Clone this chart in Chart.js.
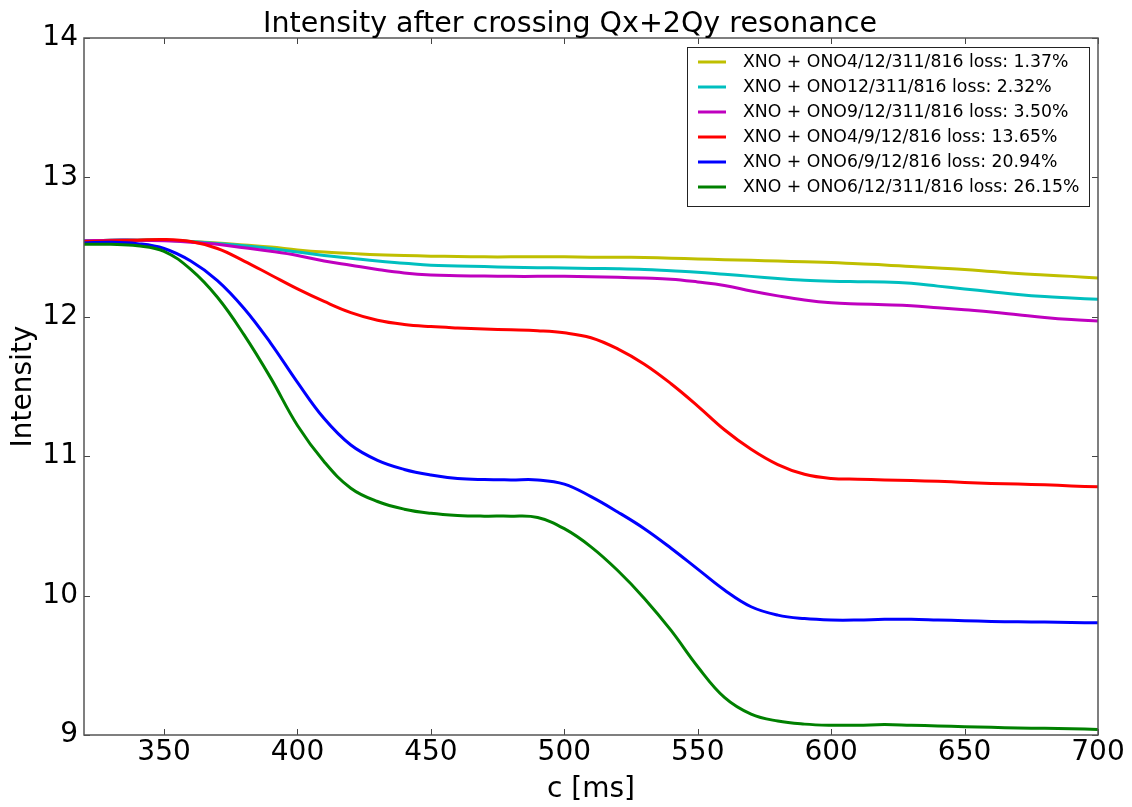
<!DOCTYPE html>
<html>
<head>
<meta charset="utf-8">
<script src="https://cdn.jsdelivr.net/npm/chart.js@4/dist/chart.umd.min.js"></script>
<style>
html,body{margin:0;padding:0;background:#fff;}
#wrap{width:1132px;height:807px;}
</style>
</head>
<body>
<div id="wrap"><canvas id="c" width="1132" height="807"></canvas></div>
<script>
const times = [320,330,340,350,360,370,380,390,400,410,420,430,440,450,460,470,480,490,500,510,520,530,540,550,560,570,580,590,600,610,620,630,640,650,660,670,680,690,700];
const yellowVals = [12.545,12.55,12.55,12.55,12.54,12.53,12.515,12.50,12.48,12.465,12.455,12.445,12.44,12.435,12.433,12.43,12.43,12.43,12.43,12.427,12.427,12.425,12.42,12.415,12.41,12.405,12.40,12.395,12.39,12.38,12.372,12.36,12.35,12.34,12.325,12.31,12.30,12.29,12.278];
const cyanVals = [12.545,12.55,12.55,12.55,12.54,12.525,12.51,12.49,12.465,12.44,12.42,12.40,12.385,12.37,12.365,12.36,12.355,12.352,12.35,12.347,12.345,12.34,12.33,12.32,12.305,12.29,12.275,12.262,12.255,12.252,12.25,12.24,12.22,12.20,12.18,12.16,12.145,12.135,12.125];
const magentaVals = [12.545,12.55,12.55,12.545,12.535,12.52,12.495,12.47,12.44,12.40,12.37,12.34,12.315,12.30,12.295,12.292,12.29,12.29,12.29,12.288,12.283,12.278,12.27,12.25,12.225,12.185,12.15,12.12,12.10,12.092,12.087,12.08,12.065,12.05,12.035,12.015,11.995,11.98,11.97];
const redVals = [12.54,12.545,12.55,12.555,12.54,12.49,12.40,12.30,12.20,12.11,12.03,11.975,11.945,11.93,11.92,11.912,11.907,11.90,11.885,11.85,11.77,11.66,11.52,11.36,11.19,11.05,10.94,10.87,10.84,10.835,10.83,10.825,10.82,10.812,10.805,10.80,10.795,10.787,10.78];
const blueVals = [12.53,12.535,12.525,12.49,12.40,12.26,12.06,11.81,11.53,11.27,11.08,10.97,10.905,10.865,10.84,10.832,10.83,10.83,10.80,10.71,10.60,10.48,10.34,10.19,10.04,9.92,9.86,9.835,9.825,9.825,9.83,9.83,9.825,9.82,9.815,9.812,9.81,9.807,9.805];
const greenVals = [12.52,12.52,12.51,12.47,12.34,12.14,11.87,11.56,11.22,10.96,10.77,10.675,10.62,10.59,10.575,10.57,10.57,10.56,10.48,10.35,10.18,9.98,9.75,9.49,9.27,9.15,9.10,9.078,9.07,9.07,9.075,9.07,9.065,9.06,9.055,9.05,9.048,9.045,9.04];

const seriesLabels = [
  "XNO + ONO4/12/311/816 loss: 1.37%",
  "XNO + ONO12/311/816 loss: 2.32%",
  "XNO + ONO9/12/311/816 loss: 3.50%",
  "XNO + ONO4/9/12/816 loss: 13.65%",
  "XNO + ONO6/9/12/816 loss: 20.94%",
  "XNO + ONO6/12/311/816 loss: 26.15%"
];
const seriesColors = ["#bfbf00","#00bfbf","#bf00bf","#ff0000","#0000ff","#008000"];
const seriesValues = [yellowVals,cyanVals,magentaVals,redVals,blueVals,greenVals];

const xTicks = [350,400,450,500,550,600,650,700];
const yTicks = [9,10,11,12,13,14];
const chartTitle = 'Intensity after crossing Qx+2Qy resonance';

const FONT = "'DejaVu Sans', sans-serif";

const datasets = seriesValues.map((vals,i)=>({
  label: seriesLabels[i],
  data: times.map((t,k)=>({x:t,y:vals[k]})),
  borderColor: seriesColors[i],
  backgroundColor: seriesColors[i],
  borderWidth: 3,
  pointRadius: 0,
  fill: false,
  tension: 0.4,
  order: -i
}));

const framePlugin = {
  id: 'frame',
  afterDatasetsDraw(chart){
    const ctx = chart.ctx, a = chart.chartArea;
    const xs = chart.scales.x, ys = chart.scales.y;
    ctx.save();
    ctx.strokeStyle = '#444';
    ctx.lineWidth = 1;
    const L = 6;
    ctx.beginPath();
    xTicks.forEach(v=>{
      const p = Math.round(xs.getPixelForValue(v))+0.5;
      ctx.moveTo(p,a.bottom); ctx.lineTo(p,a.bottom-L);
      ctx.moveTo(p,a.top); ctx.lineTo(p,a.top+L);
    });
    yTicks.forEach(v=>{
      const p = Math.round(ys.getPixelForValue(v))+0.5;
      ctx.moveTo(a.left,p); ctx.lineTo(a.left+L,p);
      ctx.moveTo(a.right,p); ctx.lineTo(a.right-L,p);
    });
    ctx.stroke();
    ctx.lineWidth = 1.5;
    ctx.strokeStyle = '#555';
    ctx.strokeRect(a.left, a.top, a.right-a.left, a.bottom-a.top);
    // title
    ctx.fillStyle = '#000';
    ctx.font = '28.5px ' + FONT;
    ctx.textAlign = 'center';
    ctx.textBaseline = 'alphabetic';
    ctx.fillText(chartTitle, 570, 32);
    // legend
    const bx = 687, by = 47, bw = 402, bh = 159;
    ctx.fillStyle = '#fff';
    ctx.fillRect(bx,by,bw,bh);
    ctx.lineWidth = 1;
    ctx.strokeStyle = '#222';
    ctx.strokeRect(bx+0.5,by+0.5,bw,bh);
    ctx.font = '17.3px ' + FONT;
    ctx.textBaseline = 'middle';
    ctx.textAlign = 'left';
    chart.data.datasets.forEach((d,i)=>{
      const yy = 62 + i*25;
      ctx.strokeStyle = d.borderColor;
      ctx.lineWidth = 3;
      ctx.beginPath();
      ctx.moveTo(698,yy); ctx.lineTo(726,yy);
      ctx.stroke();
      ctx.fillStyle = '#000';
      ctx.fillText(d.label, 743, yy+1);
    });
    ctx.restore();
  }
};

new Chart(document.getElementById('c'), {
  type: 'line',
  data: { datasets },
  options: {
    responsive: false,
    animation: false,
    events: [],
    layout: { padding: { left: 0, right: 34, top: 38, bottom: 0 } },
    plugins: {
      legend: { display: false },
      tooltip: { enabled: false },
      title: { display: false }
    },
    scales: {
      x: {
        type: 'linear',
        min: 320, max: 700,
        afterBuildTicks(s){ s.ticks = xTicks.map(v=>({value:v})); },
        afterFit(s){ s.height = 72; },
        grid: { display: false, drawTicks: false },
        border: { display: false },
        ticks: { color: '#000', font: { family: FONT, size: 28 }, padding: 1, maxRotation: 0, autoSkip: false },
        title: { display: true, text: 'c [ms]', color: '#000', font: { family: FONT, size: 28 }, padding: { top: 0, bottom: 0 } }
      },
      y: {
        type: 'linear',
        min: 9, max: 14,
        afterBuildTicks(s){ s.ticks = yTicks.map(v=>({value:v})); },
        afterFit(s){ s.width = 84; },
        grid: { display: false, drawTicks: false },
        border: { display: false },
        ticks: { color: '#000', font: { family: FONT, size: 28 }, padding: 6, autoSkip: false },
        title: { display: true, text: 'Intensity', color: '#000', font: { family: FONT, size: 28 }, padding: { top: 7, bottom: 0 } }
      }
    }
  },
  plugins: [framePlugin]
});
</script>
</body>
</html>
